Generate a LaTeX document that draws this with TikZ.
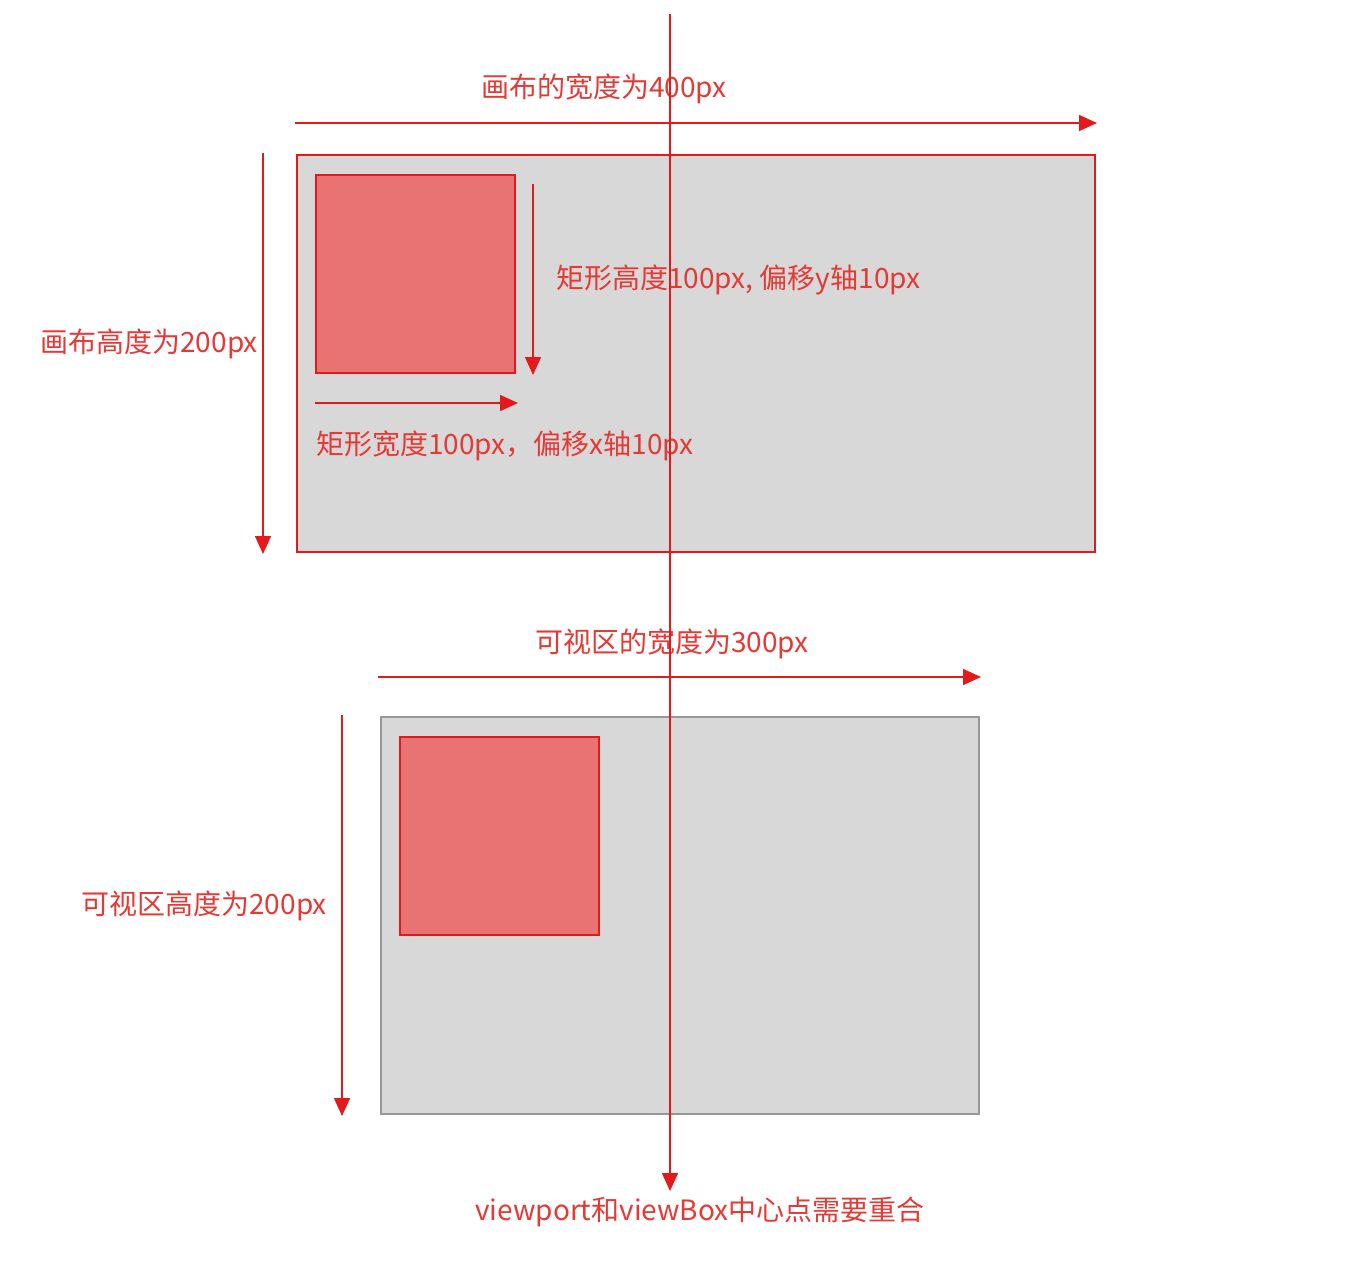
\documentclass[tikz,border=0pt]{standalone}
\usepackage{fontspec}
\setmainfont{Noto Sans CJK SC}
\usetikzlibrary{arrows.meta}
\definecolor{lred}{HTML}{E3191C}
\definecolor{tred}{HTML}{E53935}
\definecolor{sqfill}{HTML}{E97272}
\definecolor{cgray}{HTML}{D8D8D8}
\definecolor{bgray}{HTML}{979797}
\begin{document}
\begin{tikzpicture}[x=1pt,y=-1pt,
  arr/.style={draw=lred,line width=1.5pt,-{Triangle[length=18pt,width=16pt]}},
  lbl/.style={text=tred,font=\fontsize{28}{28}\selectfont,inner sep=0pt},
  canvasbox/.style={draw=lred,fill=cgray,line width=1.5pt},
  viewbox/.style={draw=bgray,fill=cgray,line width=1.5pt},
  sq/.style={draw=lred,fill=sqfill,line width=1.5pt}]
\useasboundingbox (0,0) rectangle (1368,1262);
% canvas
\path[canvasbox] (297,155) rectangle (1095,552);
\path[sq] (316,175) rectangle (515,373);
\coordinate (ha1) at (295,123); \coordinate (ha2) at (1097,123);
\draw[arr] (ha1) -- (ha2);
\node[lbl] (t1) at (604,89) {画布的宽度为400px};
\coordinate (va1) at (263,153); \coordinate (va2) at (263,554);
\draw[arr] (va1) -- (va2);
\node[lbl,anchor=east] (t2) at (258,344) {画布高度为200px};
\coordinate (ra1) at (533,184); \coordinate (ra2) at (533,375);
\draw[arr] (ra1) -- (ra2);
\node[lbl,anchor=west] (t3) at (556,280) {矩形高度100px, 偏移y轴10px};
\coordinate (rb1) at (315,403); \coordinate (rb2) at (518,403);
\draw[arr] (rb1) -- (rb2);
\node[lbl,anchor=west] (t4) at (316,446) {矩形宽度100px，偏移x轴10px};
% viewport
\path[viewbox] (381,717) rectangle (979,1114);
\path[sq] (400,737) rectangle (599,935);
\coordinate (hb1) at (378,677); \coordinate (hb2) at (981,677);
\draw[arr] (hb1) -- (hb2);
\node[lbl] (t5) at (672,644) {可视区的宽度为300px};
\coordinate (vb1) at (342,715); \coordinate (vb2) at (342,1116);
\draw[arr] (vb1) -- (vb2);
\node[lbl,anchor=east] (t6) at (327,906) {可视区高度为200px};
% center line
\coordinate (c1) at (670,14); \coordinate (c2) at (670,1191);
\draw[arr] (c1) -- (c2);
\node[lbl] (t7) at (700,1212) {viewport和viewBox中心点需要重合};
\end{tikzpicture}
\end{document}
